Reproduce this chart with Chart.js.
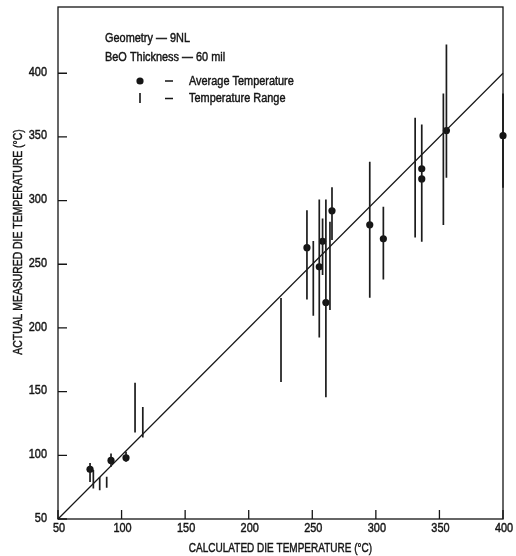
<!DOCTYPE html>
<html>
<head>
<meta charset="utf-8">
<script src="https://cdn.jsdelivr.net/npm/chart.js@4.4.0/dist/chart.umd.min.js"></script>
<style>
  html, body { margin: 0; padding: 0; background: #fff; }
</style>
</head>
<body>
<canvas id="dieChart" width="516" height="556"></canvas>
<script>
// measured temperature ranges (one vertical bar per test)
const rangeX    = [75.2, 77.8, 82.8, 88.3, 91.7, 103.5, 110.6, 116.7, 225.4, 245.8, 250.8, 255.5, 258.1, 260.7, 263.9, 265.5, 295.2, 305.9, 330.9, 336.1, 353.1, 355.5, 400];
const rangeLow  = [79, 74, 72.5, 74.6, 91, 95, 118, 114, 157.5, 222.4, 209.6, 192.6, 241.5, 145.5, 214, 269, 223.7, 238.1, 271.1, 267.7, 280.8, 317.9, 310];
const rangeHigh = [94, 88.5, 83, 83.2, 101.5, 102.8, 157, 138, 223.5, 292.5, 268.2, 300.9, 286, 300.9, 283.4, 310.4, 330.5, 295.1, 365, 359.8, 384.1, 422.6, 384];

// average temperatures
const avgX = [75.2, 91.7, 103.5, 245.8, 255.5, 258.1, 260.7, 265.5, 295.2, 305.9, 336.1, 336.1, 355.5, 400];
const avgY = [89, 96, 98, 263, 248, 268, 220, 292, 281, 270, 325, 317, 355, 351];

// calculated = measured reference line
const fitX = [50, 400];
const fitY = [50, 400];

const xTicks = [50, 100, 150, 200, 250, 300, 350, 400];
const yTicks = [50, 100, 150, 200, 250, 300, 350, 400];

const FONT = "13px 'Liberation Sans', Arial, sans-serif";
const INK = '#151515';

const rangePts = [];
rangeX.forEach((x, i) => {
    rangePts.push({ x: x, y: rangeLow[i] }, { x: x, y: rangeHigh[i] }, { x: x, y: null });
});

// condensed, slightly heavy lettering squeezed around its anchor
function narrowText(ctx, text, x, y, align, squeeze, rot) {
    ctx.save();
    ctx.translate(x, y);
    if (rot) ctx.rotate(rot);
    ctx.scale(squeeze, 1);
    ctx.textAlign = align;
    ctx.lineWidth = 0.45;
    ctx.fillText(text, 0, 0);
    ctx.strokeText(text, 0, 0);
    ctx.restore();
}

// frame, inward ticks and axis lettering
const framePlugin = {
    id: 'frame',
    afterDraw(chart) {
        const { ctx, chartArea: a, scales } = chart;
        ctx.save();
        ctx.strokeStyle = INK;
        ctx.fillStyle = INK;
        ctx.lineWidth = 1.3;
        ctx.strokeRect(a.left, a.top, a.right - a.left, a.bottom - a.top);
        ctx.beginPath();
        xTicks.forEach(v => {
            const px = scales.x.getPixelForValue(v);
            ctx.moveTo(px, a.bottom);
            ctx.lineTo(px, a.bottom - 9);
        });
        yTicks.forEach(v => {
            const py = scales.y.getPixelForValue(v);
            ctx.moveTo(a.left, py);
            ctx.lineTo(a.left + 9, py);
        });
        ctx.stroke();

        ctx.font = FONT;
        ctx.textBaseline = 'middle';
        xTicks.forEach(v => {
            narrowText(ctx, String(v), scales.x.getPixelForValue(v) + 1, a.bottom + 9, 'center', 0.84);
        });
        yTicks.forEach(v => {
            narrowText(ctx, String(v), a.left - 11, scales.y.getPixelForValue(v) - 1, 'right', 0.84);
        });
        narrowText(ctx, 'CALCULATED DIE TEMPERATURE (°C)', (a.left + a.right) / 2, 548, 'center', 0.77);
        narrowText(ctx, 'ACTUAL MEASURED DIE TEMPERATURE (°C)', 18, 242, 'center', 0.8, -Math.PI / 2);
        ctx.restore();
    }
};

// key in the upper left
const keyPlugin = {
    id: 'key',
    afterDraw(chart) {
        const ctx = chart.ctx;
        ctx.save();
        ctx.fillStyle = INK;
        ctx.strokeStyle = INK;
        ctx.font = FONT;
        ctx.textBaseline = 'middle';
        narrowText(ctx, 'Geometry — 9NL', 105, 38, 'left', 0.84);
        narrowText(ctx, 'BeO Thickness — 60 mil', 105, 57, 'left', 0.84);
        ctx.beginPath();
        ctx.arc(140, 81, 3.6, 0, Math.PI * 2);
        ctx.fill();
        ctx.lineWidth = 1.6;
        ctx.beginPath();
        ctx.moveTo(165, 81); ctx.lineTo(173, 81);
        ctx.moveTo(140, 93); ctx.lineTo(140, 103);
        ctx.moveTo(165, 98.5); ctx.lineTo(173, 98.5);
        ctx.stroke();
        narrowText(ctx, 'Average Temperature', 189, 81, 'left', 0.84);
        narrowText(ctx, 'Temperature Range', 189, 98.5, 'left', 0.84);
        ctx.restore();
    }
};

const ctx = document.getElementById('dieChart').getContext('2d');
new Chart(ctx, {
    type: 'scatter',
    data: {
        datasets: [
            {
                data: rangePts,
                showLine: true,
                spanGaps: false,
                borderColor: '#1c1c1c',
                borderWidth: 1.7,
                pointRadius: 0,
                clip: false
            },
            {
                data: avgX.map((x, i) => ({ x: x, y: avgY[i] })),
                backgroundColor: INK,
                borderColor: INK,
                pointRadius: 3.6,
                borderWidth: 0,
                clip: false
            },
            {
                data: fitX.map((x, i) => ({ x: x, y: fitY[i] })),
                showLine: true,
                borderColor: INK,
                borderWidth: 1.2,
                pointRadius: 0,
                clip: false
            }
        ]
    },
    options: {
        responsive: false,
        animation: false,
        layout: { padding: { top: 7, right: 13, left: 0, bottom: 0 } },
        plugins: { legend: { display: false }, tooltip: { enabled: false } },
        scales: {
            x: {
                type: 'linear',
                min: 50,
                max: 400,
                grid: { display: false, drawTicks: false },
                border: { display: false },
                afterBuildTicks: s => { s.ticks = xTicks.map(v => ({ value: v })); },
                afterFit: s => { s.height = 37; },
                ticks: { display: false }
            },
            y: {
                type: 'linear',
                min: 50,
                max: 452,
                grid: { display: false, drawTicks: false },
                border: { display: false },
                afterBuildTicks: s => { s.ticks = yTicks.map(v => ({ value: v })); },
                afterFit: s => { s.width = 58; },
                ticks: { display: false }
            }
        }
    },
    plugins: [framePlugin, keyPlugin]
});
</script>
</body>
</html>
